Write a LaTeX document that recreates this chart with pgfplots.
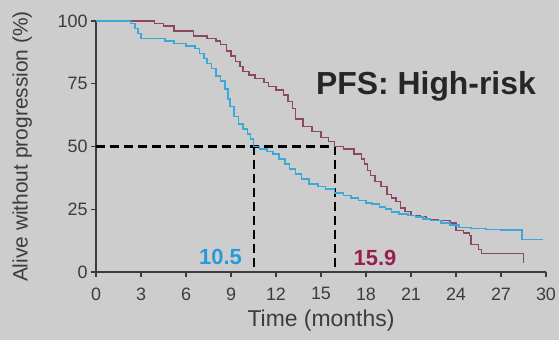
\documentclass[border=0pt]{standalone}
\usepackage{fontspec}
\setmainfont{Liberation Sans}
\usepackage{pgfplots}
\pgfplotsset{compat=1.18}
\definecolor{bgc}{RGB}{205,205,205}
\definecolor{axc}{RGB}{60,60,60}
\definecolor{bluec}{RGB}{60,168,218}
\definecolor{redc}{RGB}{140,72,98}
\definecolor{bluet}{RGB}{40,155,215}
\definecolor{redt}{RGB}{150,30,80}
\begin{document}
\begin{tikzpicture}
\path[use as bounding box] (0,0) rectangle (559bp,340bp);
\fill[bgc] (0,0) rectangle (559bp,340bp);
\begin{axis}[
  at={(96bp,68bp)}, anchor=south west,
  scale only axis, width=450bp, height=251bp,
  xmin=0, xmax=30, ymin=0, ymax=100,
  axis x line*=bottom, axis y line*=left,
  xtick pos=left, ytick pos=left,
  xtick={0,3,...,30}, ytick={0,25,50,75,100},
  tick align=outside, major tick length=5bp,
  every tick/.style={axc, line width=1.2bp},
  axis line style={axc, line width=1.4bp},
  /pgf/number format/assume math mode=true,
  ticklabel style={font=\fontsize{18}{20}\selectfont, text=axc},
  xticklabel style={yshift=-7bp},
  xlabel={Time (months)},
  ylabel={Alive without progression (\%)},
  xlabel style={font=\fontsize{23}{25}\selectfont, text=axc, at={(axis description cs:0.5,-0.195)}, anchor=center},
  ylabel style={font=\fontsize{21}{23}\selectfont, text=axc, at={(axis description cs:-0.164,0.5)}, anchor=center},
  clip=false,
]
\addplot[black, line width=2.2bp, dash pattern=on 9bp off 5bp] coordinates {(0,50) (15.9,50)};
\addplot[black, line width=2bp, dash pattern=on 9bp off 5bp] coordinates {(10.5,50) (10.5,0)};
\addplot[black, line width=2bp, dash pattern=on 9bp off 5bp] coordinates {(15.9,50) (15.9,0)};
\addplot[const plot, redc, line width=1.3bp] coordinates {
(0,100) (3.9,99) (4.5,98) (5.2,96) (6.5,94) (7.4,93) (8.0,92) (8.3,90.5) (8.7,88) (9.0,86) (9.3,84) (9.6,82) (9.8,80) (10.2,78.5) (10.6,77) (11.2,75.5) (11.5,74) (12.0,72.5) (12.5,70.5) (12.8,68) (13.1,65) (13.3,61) (13.8,58) (14.4,56) (15.0,53.5) (15.5,52) (15.9,50) (16.5,49) (17.2,47) (17.7,45) (17.9,43) (18.1,40.5) (18.3,38.5) (18.6,36) (19.0,34) (19.4,31) (19.7,29.5) (20.0,28) (20.3,25.5) (20.6,24) (21.0,22.5) (21.6,22) (22.0,21) (22.8,20.5) (23.6,19.5) (24.0,16.5) (24.5,15.5) (24.9,14.5) (25.0,11) (25.5,9) (25.7,7.5) (28.5,3.5)
};
\addplot[const plot, bluec, line width=1.6bp] coordinates {
(0,100) (2.3,99) (2.6,97) (2.8,95) (3.0,93) (4.6,92) (5.2,91) (6.0,90) (6.6,89) (6.9,87) (7.2,85) (7.4,83) (7.7,81) (8.0,78) (8.3,76) (8.6,73) (8.8,69) (8.95,66) (9.2,62) (9.5,59) (9.8,57) (10.1,55) (10.3,53) (10.5,50) (10.9,49) (11.4,48) (11.8,47) (12.2,45) (12.6,43) (12.9,41) (13.3,39) (13.7,37) (14.2,35) (14.8,34) (15.3,33) (15.9,31.5) (16.5,30.5) (17.0,29.5) (17.5,28.5) (18.0,27.5) (18.4,27) (18.9,26) (19.3,25) (19.7,24) (20.2,23) (20.8,22.5) (21.3,22) (21.8,21) (22.3,20.5) (23.0,19.5) (23.6,18.7) (24.2,17.8) (25.0,17.4) (26.0,17.0) (27.0,16.7) (28.4,13) (29.8,13)
};
\node[font=\fontsize{32}{34}\selectfont\bfseries, text=black!85] at (axis cs:22.0,74) {PFS: High-risk};
\node[font=\fontsize{22}{24}\selectfont\bfseries, text=bluet] at (axis cs:8.3,6) {10.5};
\node[font=\fontsize{22}{24}\selectfont\bfseries, text=redt] at (axis cs:18.6,5.5) {15.9};
\end{axis}
\end{tikzpicture}
\end{document}
